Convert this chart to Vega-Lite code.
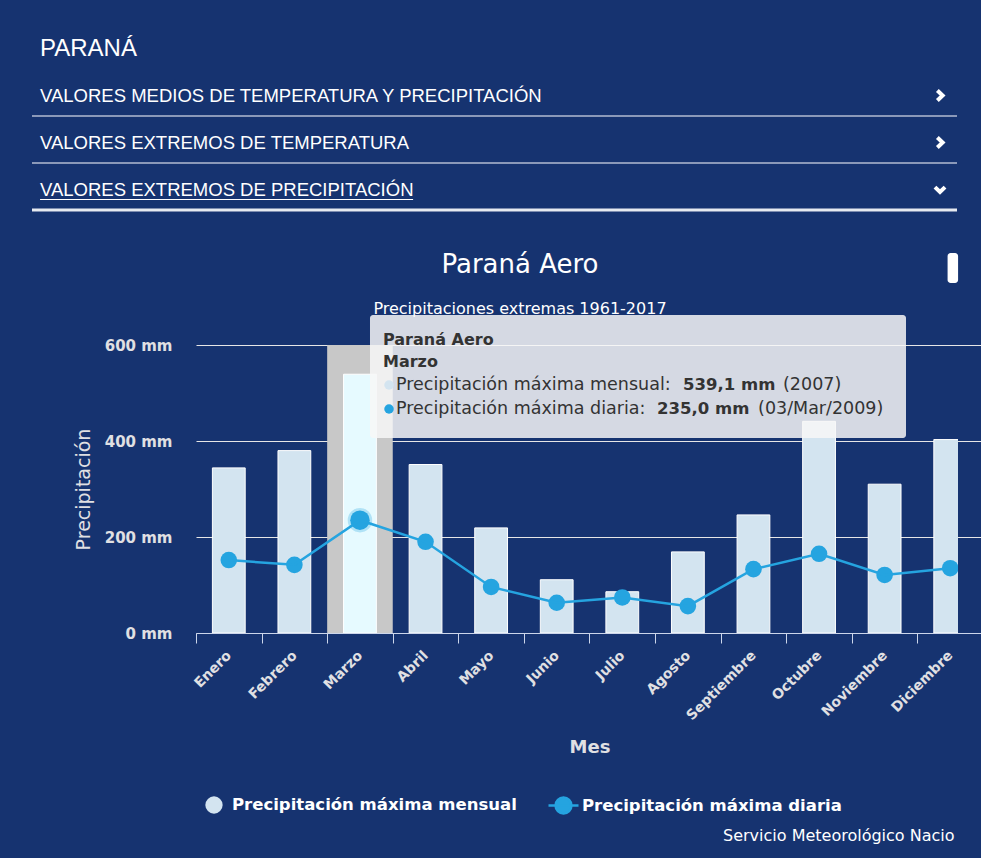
{
  "$schema": "https://vega.github.io/schema/vega-lite/v6.json",
  "width": 762,
  "height": 288,
  "autosize": {"type": "none"},
  "padding": {"left": 196, "top": 345, "right": 23, "bottom": 225},
  "background": "#163370",
  "config": {"view": {"stroke": null}, "font": "DejaVu Sans"},
  "datasets": {
    "meses": [
      {"mes": "Enero", "mensual": 344, "diaria": 152},
      {"mes": "Febrero", "mensual": 380, "diaria": 142},
      {"mes": "Marzo", "mensual": 539.1, "diaria": 235.0},
      {"mes": "Abril", "mensual": 351, "diaria": 190},
      {"mes": "Mayo", "mensual": 219, "diaria": 96},
      {"mes": "Junio", "mensual": 111, "diaria": 63},
      {"mes": "Julio", "mensual": 86, "diaria": 74},
      {"mes": "Agosto", "mensual": 169, "diaria": 56},
      {"mes": "Septiembre", "mensual": 246, "diaria": 133},
      {"mes": "Octubre", "mensual": 441, "diaria": 165},
      {"mes": "Noviembre", "mensual": 310, "diaria": 121},
      {"mes": "Diciembre", "mensual": 403, "diaria": 135}
    ],
    "encabezado": [
      {"texto": "PARANÁ", "tipo": "titulo"},
      {"texto": "VALORES MEDIOS DE TEMPERATURA Y PRECIPITACIÓN", "tipo": "menu", "estado": "cerrado"},
      {"texto": "VALORES EXTREMOS DE TEMPERATURA", "tipo": "menu", "estado": "cerrado"},
      {"texto": "VALORES EXTREMOS DE PRECIPITACIÓN", "tipo": "menu", "estado": "abierto"}
    ],
    "tooltip": [
      {"estacion": "Paraná Aero", "subtitulo": "Precipitaciones extremas 1961-2017", "mes": "Marzo", "et_mensual": "Precipitación máxima mensual: ", "val_mensual": "539,1 mm", "anio_mensual": "(2007)", "et_diaria": "Precipitación máxima diaria: ", "val_diaria": "235,0 mm", "fecha_diaria": "(03/Mar/2009)", "credito": "Servicio Meteorológico Nacio"}
    ]
  },
  "layer": [
    {
      "data": {"name": "meses"},
      "resolve": {"scale": {"x": "independent"}},
      "layer": [
        {
          "encoding": {
            "x": {
              "field": "mes",
              "type": "nominal",
              "sort": ["Enero","Febrero","Marzo","Abril","Mayo","Junio","Julio","Agosto","Septiembre","Octubre","Noviembre","Diciembre"],
              "scale": {"paddingInner": 0, "paddingOuter": 0, "range": [0, 787]},
              "axis": {
                "orient": "bottom",
                "title": "Mes",
                "labelAngle": -45,
                "labelAlign": "right",
                "labelBaseline": "middle",
                "labelPadding": 10,
                "tickBand": "extent",
                "tickSize": 10,
                "tickColor": "#CCD6EB",
                "domainColor": "#CCD6EB",
                "labelColor": "#E0E0E3",
                "labelFont": "DejaVu Sans",
                "labelFontSize": 14,
                "labelFontWeight": "bold",
                "titleFont": "DejaVu Sans",
                "titleFontSize": 18,
                "titleFontWeight": "bold",
                "titleColor": "#E0E0E3",
                "titlePadding": 16,
                "grid": false
              }
            }
          },
          "layer": [
            {
              "transform": [{"filter": "datum.mes === 'Marzo'"}],
              "mark": {"type": "bar", "color": "#C8C8C8", "width": {"band": 1}},
              "encoding": {
                "y": {
                  "datum": 600,
                  "type": "quantitative",
                  "title": "Precipitación",
                  "scale": {"domain": [0, 600], "nice": false},
                  "axis": {
                    "orient": "left",
                    "values": [0, 200, 400, 600],
                    "labelExpr": "datum.value + ' mm'",
                    "grid": true,
                    "gridColor": "#E6E6E6",
                    "gridWidth": 1,
                    "domain": false,
                    "ticks": false,
                    "labelPadding": 24,
                    "labelFont": "DejaVu Sans",
                    "labelFontSize": 15,
                    "labelFontWeight": "bold",
                    "labelColor": "#E0E0E3",
                    "titleFont": "DejaVu Sans",
                    "titleFontSize": 19,
                    "titleFontWeight": "normal",
                    "titleColor": "#E0E0E3",
                    "titlePadding": 11
                  }
                }
              }
            },
            {
              "mark": {"type": "bar", "stroke": "#FFFFFF", "strokeWidth": 1, "width": {"band": 0.5}, "clip": true},
              "encoding": {
                "y": {"field": "mensual", "type": "quantitative", "title": "Precipitación", "scale": {"domain": [0, 600], "nice": false}},
                "fill": {
                  "condition": {"test": "datum.mes === 'Marzo'", "value": "#E6FAFF"},
                  "datum": "Precipitación máxima mensual",
                  "scale": {"domain": ["Precipitación máxima mensual"], "range": ["#D3E4F0"]},
                  "legend": {
                    "orient": "none",
                    "legendX": 9,
                    "legendY": 451,
                    "title": null,
                    "symbolType": "circle",
                    "symbolSize": 300,
                    "symbolOpacity": 1,
                    "symbolStrokeWidth": 0,
                    "symbolStrokeColor": "#D3E4F0",
                    "labelFont": "DejaVu Sans",
                    "labelFontSize": 16.5,
                    "labelFontWeight": "bold",
                    "labelColor": "#FFFFFF",
                    "labelOffset": 9,
                    "labelLimit": 400
                  }
                }
              }
            },
            {
              "transform": [{"filter": "datum.mes === 'Marzo'"}],
              "mark": {"type": "point", "filled": true, "shape": "circle", "size": 600, "opacity": 0.28, "color": "#25A4E0"},
              "encoding": {
                "y": {"field": "diaria", "type": "quantitative", "title": "Precipitación", "scale": {"domain": [0, 600], "nice": false}}
              }
            },
            {
              "mark": {"type": "point", "filled": true, "shape": "circle", "opacity": 1, "clip": true},
              "encoding": {
                "y": {"field": "diaria", "type": "quantitative", "title": "Precipitación", "scale": {"domain": [0, 600], "nice": false}},
                "color": {
                  "datum": "Precipitación máxima diaria",
                  "scale": {"domain": ["Precipitación máxima diaria"], "range": ["#25A4E0"]},
                  "legend": {
                    "orient": "none",
                    "legendX": 351,
                    "legendY": 444,
                    "title": null,
                    "symbolType": "M-1,0L1,0M-0.53,0A0.53,0.53 0 1,1 0.53,0A0.53,0.53 0 1,1 -0.53,0Z",
                    "symbolSize": 900,
                    "symbolOpacity": 1,
                    "symbolStrokeWidth": 2.5,
                    "symbolFillColor": "#25A4E0",
                    "symbolStrokeColor": "#25A4E0",
                    "labelFont": "DejaVu Sans",
                    "labelFontSize": 16.5,
                    "labelFontWeight": "bold",
                    "labelColor": "#FFFFFF",
                    "labelOffset": 2,
                    "labelLimit": 400
                  }
                },
                "size": {"condition": {"test": "datum.mes === 'Marzo'", "value": 380}, "value": 275}
              }
            },
            {
              "mark": {"type": "line", "strokeWidth": 2.5, "clip": true},
              "encoding": {
                "y": {"field": "diaria", "type": "quantitative", "title": "Precipitación", "scale": {"domain": [0, 600], "nice": false}},
                "color": {"datum": "Precipitación máxima diaria"}
              }
            }
          ]
        },
        {
          "data": {"name": "tooltip"},
          "layer": [
            {
              "mark": {"type": "text", "align": "center", "baseline": "middle", "font": "DejaVu Sans", "fontSize": 26, "color": "#FFFFFF"},
              "encoding": {
                "x": {"datum": 4.94, "type": "quantitative", "scale": {"domain": [0, 12], "range": [0, 787]}, "axis": null},
                "y": {"datum": 766.7, "type": "quantitative", "title": "Precipitación", "scale": {"domain": [0, 600], "nice": false}},
                "text": {"field": "estacion"}
              }
            },
            {
              "mark": {"type": "text", "align": "center", "baseline": "middle", "font": "DejaVu Sans", "fontSize": 16, "color": "#FFFFFF"},
              "encoding": {
                "x": {"datum": 4.94, "type": "quantitative", "scale": {"domain": [0, 12], "range": [0, 787]}, "axis": null},
                "y": {"datum": 675, "type": "quantitative", "title": "Precipitación"},
                "text": {"field": "subtitulo"}
              }
            },
            {
              "mark": {"type": "rect", "fill": "#FFFFFF", "cornerRadius": 3},
              "encoding": {
                "x": {"datum": 11.46, "type": "quantitative", "scale": {"domain": [0, 12], "range": [0, 787]}, "axis": null},
                "x2": {"datum": 11.62},
                "y": {"datum": 791.7, "type": "quantitative", "title": "Precipitación"},
                "y2": {"datum": 729.2}
              }
            },
            {
              "mark": {"type": "rect", "fill": "#F7F7F7", "fillOpacity": 0.85, "cornerRadius": 3},
              "encoding": {
                "x": {"datum": 2.653, "type": "quantitative", "scale": {"domain": [0, 12], "range": [0, 787]}, "axis": null},
                "x2": {"datum": 10.826},
                "y": {"datum": 662.5, "type": "quantitative", "title": "Precipitación"},
                "y2": {"datum": 406.25}
              }
            },
            {
              "mark": {"type": "text", "align": "left", "baseline": "middle", "font": "DejaVu Sans", "fontSize": 16, "fontWeight": "bold", "color": "#333333"},
              "encoding": {
                "x": {"datum": 2.851, "type": "quantitative", "scale": {"domain": [0, 12], "range": [0, 787]}, "axis": null},
                "y": {"datum": 610.4, "type": "quantitative", "title": "Precipitación"},
                "text": {"field": "estacion"}
              }
            },
            {
              "mark": {"type": "text", "align": "left", "baseline": "middle", "font": "DejaVu Sans", "fontSize": 16, "fontWeight": "bold", "color": "#333333"},
              "encoding": {
                "x": {"datum": 2.851, "type": "quantitative", "scale": {"domain": [0, 12], "range": [0, 787]}, "axis": null},
                "y": {"datum": 564.6, "type": "quantitative", "title": "Precipitación"},
                "text": {"field": "mes"}
              }
            },
            {
              "mark": {"type": "point", "filled": true, "shape": "circle", "size": 90, "opacity": 1, "color": "#D3E4F0"},
              "encoding": {
                "x": {"datum": 2.943, "type": "quantitative", "scale": {"domain": [0, 12], "range": [0, 787]}, "axis": null},
                "y": {"datum": 516.7, "type": "quantitative", "title": "Precipitación"}
              }
            },
            {
              "mark": {"type": "point", "filled": true, "shape": "circle", "size": 90, "opacity": 1, "color": "#25A4E0"},
              "encoding": {
                "x": {"datum": 2.943, "type": "quantitative", "scale": {"domain": [0, 12], "range": [0, 787]}, "axis": null},
                "y": {"datum": 466.7, "type": "quantitative", "title": "Precipitación"}
              }
            },
            {
              "mark": {"type": "text", "align": "left", "baseline": "middle", "font": "DejaVu Sans", "fontSize": 17.5, "color": "#333333"},
              "encoding": {
                "x": {"datum": 3.05, "type": "quantitative", "scale": {"domain": [0, 12], "range": [0, 787]}, "axis": null},
                "y": {"datum": 516.7, "type": "quantitative", "title": "Precipitación"},
                "text": {"field": "et_mensual"}
              }
            },
            {
              "mark": {"type": "text", "align": "left", "baseline": "middle", "font": "DejaVu Sans", "fontSize": 16.5, "fontWeight": "bold", "color": "#333333"},
              "encoding": {
                "x": {"datum": 7.426, "type": "quantitative", "scale": {"domain": [0, 12], "range": [0, 787]}, "axis": null},
                "y": {"datum": 516.7, "type": "quantitative", "title": "Precipitación"},
                "text": {"field": "val_mensual"}
              }
            },
            {
              "mark": {"type": "text", "align": "left", "baseline": "middle", "font": "DejaVu Sans", "fontSize": 17.5, "color": "#333333"},
              "encoding": {
                "x": {"datum": 8.951, "type": "quantitative", "scale": {"domain": [0, 12], "range": [0, 787]}, "axis": null},
                "y": {"datum": 516.7, "type": "quantitative", "title": "Precipitación"},
                "text": {"field": "anio_mensual"}
              }
            },
            {
              "mark": {"type": "text", "align": "left", "baseline": "middle", "font": "DejaVu Sans", "fontSize": 17.5, "color": "#333333"},
              "encoding": {
                "x": {"datum": 3.05, "type": "quantitative", "scale": {"domain": [0, 12], "range": [0, 787]}, "axis": null},
                "y": {"datum": 466.7, "type": "quantitative", "title": "Precipitación"},
                "text": {"field": "et_diaria"}
              }
            },
            {
              "mark": {"type": "text", "align": "left", "baseline": "middle", "font": "DejaVu Sans", "fontSize": 16.5, "fontWeight": "bold", "color": "#333333"},
              "encoding": {
                "x": {"datum": 7.03, "type": "quantitative", "scale": {"domain": [0, 12], "range": [0, 787]}, "axis": null},
                "y": {"datum": 466.7, "type": "quantitative", "title": "Precipitación"},
                "text": {"field": "val_diaria"}
              }
            },
            {
              "mark": {"type": "text", "align": "left", "baseline": "middle", "font": "DejaVu Sans", "fontSize": 17.5, "color": "#333333"},
              "encoding": {
                "x": {"datum": 8.57, "type": "quantitative", "scale": {"domain": [0, 12], "range": [0, 787]}, "axis": null},
                "y": {"datum": 466.7, "type": "quantitative", "title": "Precipitación"},
                "text": {"field": "fecha_diaria"}
              }
            },
            {
              "mark": {"type": "text", "align": "left", "baseline": "middle", "font": "DejaVu Sans", "fontSize": 16, "color": "#FFFFFF"},
              "encoding": {
                "x": {"datum": 8.036, "type": "quantitative", "scale": {"domain": [0, 12], "range": [0, 787]}, "axis": null},
                "y": {"datum": -423, "type": "quantitative", "title": "Precipitación"},
                "text": {"field": "credito"}
              }
            }
          ]
        }
      ]
    },
    {
      "data": {"name": "encabezado"},
      "encoding": {
        "y": {
          "field": "texto",
          "type": "nominal",
          "sort": null,
          "scale": {"type": "band", "range": [-320, -132], "paddingInner": 0, "paddingOuter": 0},
          "axis": null
        }
      },
      "layer": [
        {
          "mark": {"type": "text", "align": "left", "baseline": "middle", "dx": 8, "font": "Liberation Sans", "color": "#FFFFFF"},
          "encoding": {
            "x": {"datum": 0, "type": "quantitative", "scale": {"domain": [0, 1], "range": [-164, 761]}, "axis": null},
            "text": {"field": "texto"},
            "size": {"condition": {"test": "datum.tipo === 'titulo'", "value": 24}, "value": 18.5}
          }
        },
        {
          "transform": [{"filter": "datum.estado === 'abierto'"}],
          "mark": {"type": "rule", "yOffset": 10, "color": "#FFFFFF", "strokeWidth": 1},
          "encoding": {
            "x": {"datum": 0.0087, "type": "quantitative", "scale": {"domain": [0, 1], "range": [-164, 761]}, "axis": null},
            "x2": {"datum": 0.412},
            "y": {"field": "texto", "type": "nominal", "sort": null, "bandPosition": 0.5}
          }
        },
        {
          "transform": [{"filter": "datum.tipo === 'menu'"}],
          "mark": {"type": "rule", "yOffset": -3},
          "encoding": {
            "x": {"datum": 0, "type": "quantitative", "scale": {"domain": [0, 1], "range": [-164, 761]}, "axis": null},
            "x2": {"datum": 1},
            "y": {"field": "texto", "type": "nominal", "sort": null, "bandPosition": 1},
            "color": {"condition": {"test": "datum.estado === 'abierto'", "value": "#E6EAF0"}, "value": "#B3BDD2"},
            "strokeWidth": {"condition": {"test": "datum.estado === 'abierto'", "value": 3}, "value": 1.5}
          }
        },
        {
          "transform": [{"filter": "datum.tipo === 'menu'"}],
          "mark": {"type": "point", "filled": false, "strokeWidth": 4, "color": "#FFFFFF", "size": 576, "xOffset": -17, "opacity": 1},
          "encoding": {
            "x": {"datum": 1, "type": "quantitative", "scale": {"domain": [0, 1], "range": [-164, 761]}, "axis": null},
            "shape": {
              "field": "estado",
              "type": "nominal",
              "scale": {"domain": ["cerrado", "abierto"], "range": ["M-0.22,-0.42L0.22,0L-0.22,0.42", "M-0.42,-0.2L0,0.2L0.42,-0.2"]},
              "legend": null
            }
          }
        }
      ]
    }
  ],
  "resolve": {"scale": {"x": "independent", "y": "independent"}}
}
